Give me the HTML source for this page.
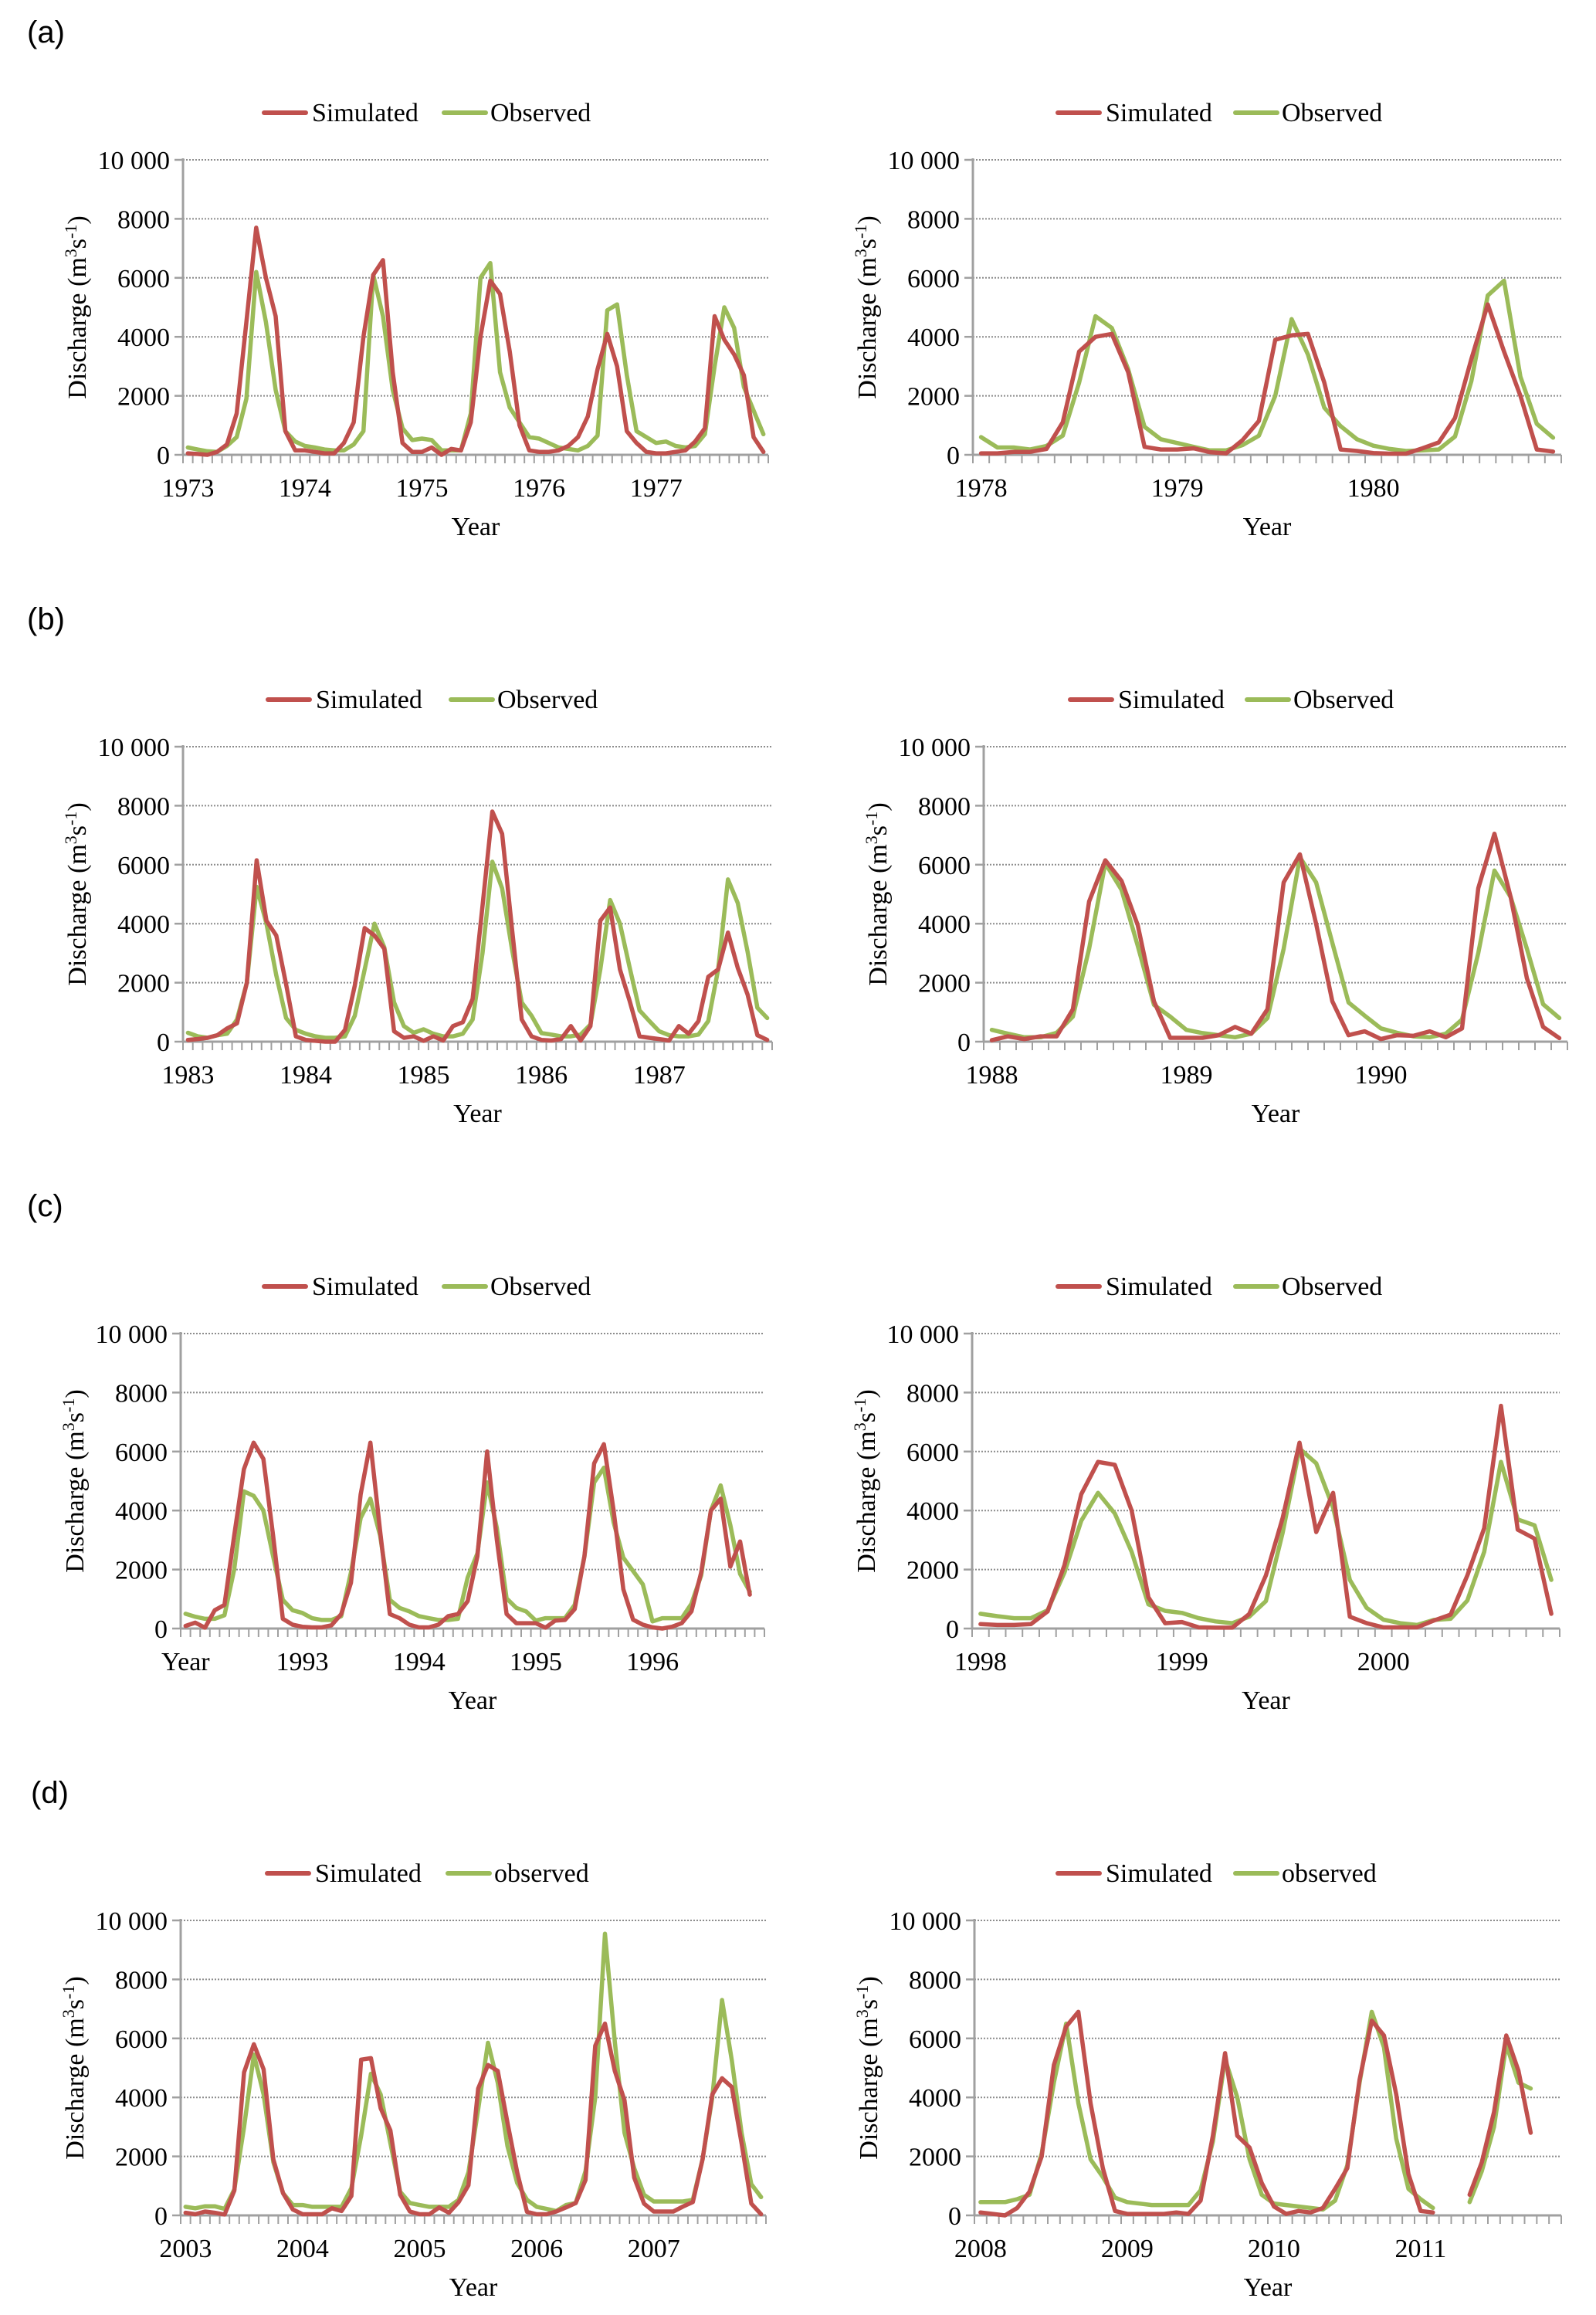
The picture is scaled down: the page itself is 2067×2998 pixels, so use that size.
<!DOCTYPE html>
<html><head><meta charset="utf-8"><style>
html,body{margin:0;padding:0;background:#fff;}
svg{display:block;}
text{font-family:"Liberation Serif",serif;fill:#000;}
.pl{font-family:"Liberation Sans",sans-serif;font-size:40px;}
</style></head><body>
<svg id="fig" width="2067" height="2998" viewBox="0 0 2067 2998" xmlns="http://www.w3.org/2000/svg">
<text class="pl" x="35" y="55">(a)</text>
<text class="pl" x="35" y="815">(b)</text>
<text class="pl" x="35" y="1575">(c)</text>
<text class="pl" x="40" y="2335">(d)</text>
</svg>
<script>
const yTicks=[0,2000,4000,6000,8000,10000];
const yTickLabels=["0","2000","4000","6000","8000","10 000"];

const simA1=[50,30,0,100,350,1400,4500,7700,6000,4700,800,150,150,100,50,50,400,1100,4000,6100,6600,2800,400,100,100,250,0,200,150,1100,4000,5900,5450,3500,1000,150,100,100,150,300,600,1300,2900,4100,3000,800,400,100,50,50,100,150,450,900,4700,3900,3400,2700,600,100];
const obsA1=[250,180,120,100,300,600,1900,6200,4500,2200,800,450,300,250,180,150,150,350,800,6100,4700,2200,900,500,550,500,150,150,150,1400,6000,6500,2800,1600,1100,600,550,400,250,200,150,300,650,4900,5100,2700,800,600,400,450,300,250,300,700,3000,5000,4300,2300,1500,700];
const labA1=["1973","1974","1975","1976","1977"];

const simA2=[50,50,100,100,200,1100,3500,4000,4100,2800,270,180,180,220,90,50,500,1150,3900,4050,4100,2450,180,130,60,40,40,220,420,1250,3250,5100,3500,2000,180,110];
const obsA2=[600,250,250,180,300,650,2450,4700,4300,2900,950,530,400,270,150,150,330,650,2000,4600,3400,1600,970,530,310,200,130,150,180,620,2500,5400,5900,2650,1050,580];
const labA2=["1978","1979","1980"];

const simB1=[60,90,130,220,450,620,2000,6150,4100,3600,1950,180,60,30,0,0,400,1900,3850,3600,3150,350,130,180,30,180,40,530,660,1450,4600,7800,7050,3850,750,180,60,40,90,530,40,530,4100,4550,2450,1370,180,130,90,40,530,270,700,2200,2450,3700,2500,1600,220,60];
const obsB1=[300,180,130,220,270,750,2000,5250,4000,2250,800,400,270,180,130,130,180,880,2450,4000,3200,1330,530,300,420,270,180,180,270,750,3000,6100,5200,3150,1330,880,290,240,180,180,240,580,2450,4800,4000,2500,1060,700,350,220,180,180,240,700,2450,5500,4700,3050,1150,800];
const labB1=["1983","1984","1985","1986","1987"];

const simB2=[50,180,90,180,180,1100,4750,6150,5450,3950,1370,130,130,130,220,500,270,1100,5400,6350,4000,1370,220,350,90,220,200,350,150,450,5200,7050,4900,2150,500,120];
const obsB2=[400,270,150,150,300,850,3150,6050,5150,3250,1250,850,400,290,220,150,270,800,3150,6250,5400,3350,1330,880,450,300,180,150,270,750,3000,5800,4900,3150,1270,800];
const labB2=["1988","1989","1990"];

const simC1=[90,200,30,620,800,3150,5400,6300,5750,3150,330,130,60,40,40,110,490,1550,4550,6300,3300,490,350,130,40,40,130,420,490,930,2450,6000,3000,490,180,180,180,30,270,290,660,2450,5600,6250,4000,1330,300,130,40,0,60,180,580,1900,4000,4400,2100,2950,1150];
const obsC1=[500,400,330,330,450,2000,4650,4500,4000,2450,970,620,530,350,290,290,420,1900,3750,4400,3150,970,700,580,420,350,290,290,330,1730,2550,4950,3400,1020,700,580,270,350,350,350,800,2450,4950,5450,3600,2400,1950,1500,240,350,350,350,840,1800,4000,4850,3500,1850,1250];
const labC1=["Year","1993","1994","1995","1996"];

const simC2=[150,120,120,150,580,2150,4550,5650,5550,4000,1060,180,220,40,30,30,490,1800,3750,6300,3270,4600,400,180,40,40,40,270,470,1800,3400,7550,3350,3050,500];
const obsC2=[500,420,350,350,620,1900,3650,4600,3900,2600,820,600,530,350,240,180,400,930,3250,6100,5600,4100,1650,700,300,180,120,290,330,950,2600,5650,3700,3500,1650];
const labC2=["1998","1999","2000"];

const simD1=[90,40,130,90,30,840,4850,5800,4950,1900,750,200,40,40,40,240,150,660,5280,5330,3630,2880,700,130,40,40,270,90,450,1020,4300,5100,4900,3150,1460,120,40,40,130,270,420,1200,5750,6500,4900,3900,1280,400,130,130,130,300,450,1900,4100,4650,4350,2450,400,40];
const obsD1=[290,240,310,310,220,880,3000,5450,4100,1810,750,350,350,290,290,290,290,930,2700,4800,4100,2450,800,420,350,290,290,290,530,1460,3600,5850,4500,2350,1100,530,290,220,150,350,420,1500,4000,9550,5900,2800,1600,700,470,470,470,470,530,1900,4000,7300,5250,2800,1060,620];
const labD1=["2003","2004","2005","2006","2007"];

const simD2=[100,50,0,250,800,2000,5100,6400,6900,3800,1600,150,50,50,50,50,100,50,500,2700,5500,2700,2300,1100,300,50,150,100,250,900,1600,4600,6600,6100,4100,1400,150,100,null,null,700,1800,3500,6100,4900,2800];
const obsD2=[450,450,450,550,700,2100,4500,6500,3800,1900,1300,600,450,400,350,350,350,350,850,2500,5300,4000,1900,700,400,350,300,250,200,500,1700,4500,6900,5700,2600,900,550,250,null,null,450,1500,3000,5800,4500,4300];
const labD2=["2008","2009","2010","2011"];

const NS='http://www.w3.org/2000/svg';
const svg=document.getElementById('fig');
function mk(tag,attrs,parent){const e=document.createElementNS(NS,tag);for(const k in attrs)e.setAttribute(k,attrs[k]);(parent||svg).appendChild(e);return e;}

function drawChart(c){
  const g=mk('g',{});
  
  
  const n=c.n, w=(c.x1-c.x0)/n;
  const X=i=>c.x0+w*(i+0.5);
  const Y=v=>c.yb-(v/10000)*(c.yb-c.top);
  yTicks.forEach((t,k)=>{
    if(t>0){const gl=mk('line',{x1:c.x0,x2:c.x1,y1:Y(t),y2:Y(t),stroke:'#8c8c8c','stroke-width':2,'stroke-dasharray':'2,2'},g);
      
      }
    const tk=mk('line',{x1:c.x0-11,x2:c.x0,y1:Y(t),y2:Y(t),stroke:'#a0a0a0','stroke-width':2.5},g);
    
    
    const tl=mk('text',{x:c.x0-17,y:Y(t)+12,'text-anchor':'end','font-size':34},g);
    tl.textContent=yTickLabels[k];
    
    
  });
  const ya=mk('line',{x1:c.x0,x2:c.x0,y1:c.top-2,y2:c.yb,stroke:'#a0a0a0','stroke-width':3},g);
  
  
  const xa=mk('line',{x1:c.x0,x2:c.x1,y1:c.yb,y2:c.yb,stroke:'#a0a0a0','stroke-width':3},g);
  
  
  for(let k=0;k<=n;k++){
    const t=mk('line',{x1:c.x0+w*k,x2:c.x0+w*k,y1:c.yb,y2:c.yb+11,stroke:'#a0a0a0','stroke-width':2},g);
    
    
  }
  c.labels.forEach((l,k)=>{
    const t=mk('text',{x:X(k*12),y:c.yb+54,'text-anchor':'middle','font-size':34},g);
    t.textContent=l;
    
    
  });
  const xt=mk('text',{x:(c.x0+c.x1)/2,y:c.yb+104,'text-anchor':'middle','font-size':34},g);
  xt.textContent='Year';
  
  
  const yt=mk('text',{x:0,y:0,'text-anchor':'middle','font-size':34,transform:`translate(${c.x0-126},${(c.top+c.yb)/2}) rotate(-90)`},g);
  yt.innerHTML='Discharge (m<tspan dy="-12" font-size="22">3</tspan><tspan dy="12">s</tspan><tspan dy="-12" font-size="22">-1</tspan><tspan dy="12">)</tspan>';
  
  
  function path(vals,color,nm){
    let d='',pen=false;
    vals.forEach((v,i)=>{if(v===null){pen=false;return;}d+=(pen?'L':'M')+X(i).toFixed(1)+','+Y(v).toFixed(1);pen=true;});
    const p=mk('path',{d:d,fill:'none',stroke:color,'stroke-width':5.5,'stroke-linejoin':'round','stroke-linecap':'round'},g);
    
    
  }
  path(c.obs,'#9BBB59','observed-line');
  path(c.sim,'#C0504D','simulated-line');
  const ly=c.top-61;
  const l1=mk('line',{x1:c.lg[0],x2:c.lg[0]+54,y1:ly,y2:ly,stroke:'#C0504D','stroke-width':6,'stroke-linecap':'round'},g);
  
  
  const t1=mk('text',{x:c.lg[0]+62,y:ly+11,'font-size':34},g);
  t1.textContent='Simulated';
  
  
  const l2=mk('line',{x1:c.lg[1],x2:c.lg[1]+54,y1:ly,y2:ly,stroke:'#9BBB59','stroke-width':6,'stroke-linecap':'round'},g);
  
  
  const t2=mk('text',{x:c.lg[1]+60,y:ly+11,'font-size':34},g);
  t2.textContent=c.obsName;
  
  
}

const charts=[
 {name:'chart-a-left',x0:237,x1:995,top:207,yb:589,n:60,sim:simA1,obs:obsA1,labels:labA1,lg:[342,575],obsName:'Observed'},
 {name:'chart-a-right',x0:1260,x1:2022,top:207,yb:589,n:36,sim:simA2,obs:obsA2,labels:labA2,lg:[1370,1600],obsName:'Observed'},
 {name:'chart-b-left',x0:237,x1:1000,top:967,yb:1349,n:60,sim:simB1,obs:obsB1,labels:labB1,lg:[347,584],obsName:'Observed'},
 {name:'chart-b-right',x0:1274,x1:2030,top:967,yb:1349,n:36,sim:simB2,obs:obsB2,labels:labB2,lg:[1386,1615],obsName:'Observed'},
 {name:'chart-c-left',x0:234,x1:990,top:1727,yb:2109,n:60,sim:simC1,obs:obsC1,labels:labC1,lg:[342,575],obsName:'Observed'},
 {name:'chart-c-right',x0:1259,x1:2020,top:1727,yb:2109,n:35,sim:simC2,obs:obsC2,labels:labC2,lg:[1370,1600],obsName:'Observed'},
 {name:'chart-d-left',x0:234,x1:992,top:2487,yb:2869,n:60,sim:simD1,obs:obsD1,labels:labD1,lg:[346,580],obsName:'observed'},
 {name:'chart-d-right',x0:1262,x1:2022,top:2487,yb:2869,n:48,sim:simD2,obs:obsD2,labels:labD2,lg:[1370,1600],obsName:'observed'}
];
charts.forEach(drawChart);
</script>
</body></html>
